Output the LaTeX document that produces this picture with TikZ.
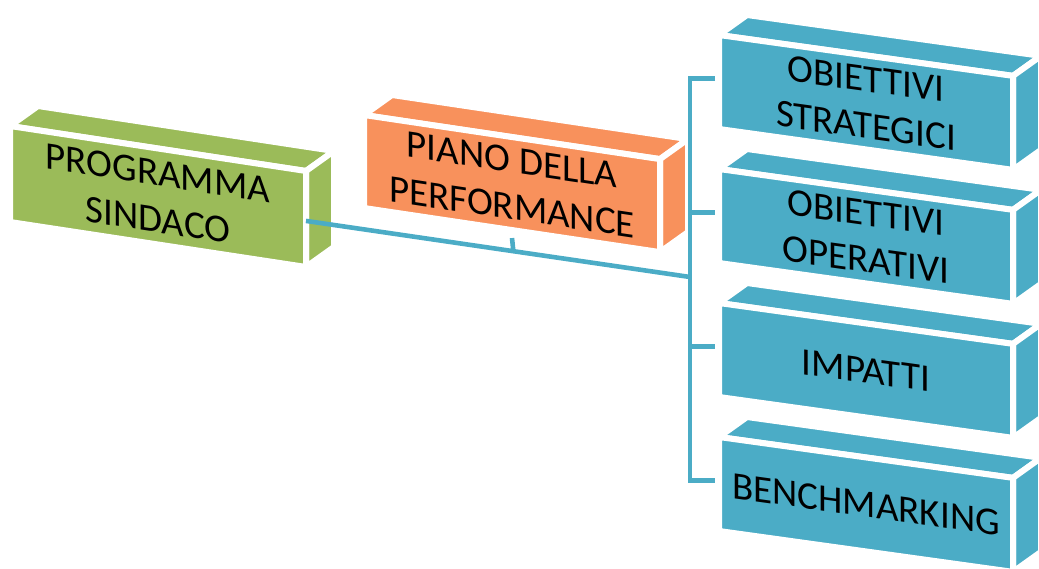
\documentclass[tikz,border=0pt]{standalone}
\usepackage{fontspec}
\setmainfont{Carlito}
\usetikzlibrary{calc}
\definecolor{pgreen}{RGB}{155,187,89}
\definecolor{porange}{RGB}{248,145,92}
\definecolor{pblue}{RGB}{75,172,198}
\tikzset{
  face/.style={draw=white, line width=3pt, line join=round},
  link/.style={draw=pblue, line width=2.3pt},
  slabtext/.style={align=center, font=\fontsize{19.5}{23.5}\selectfont, transform shape}
}
% box: name, x, y, width, height, slope, colour, text
\newcommand{\slab}[8]{%
  \coordinate (#1-a) at (#2,#3);
  \coordinate (#1-b) at ($(#1-a)+(#4,#4*#6)$);
  \coordinate (#1-c) at ($(#1-b)+(0,#5)$);
  \coordinate (#1-d) at ($(#1-a)+(0,#5)$);
  \coordinate (#1-m) at ($(#1-a)!0.5!(#1-c)$);
  \coordinate (#1-in) at ($(#1-a)!0.46!(#1-d)+(-4,0)$);
  \filldraw[face, fill=#7] (#1-a) -- (#1-b) -- ($(#1-b)+(28,-20)$) -- ($(#1-a)+(28,-20)$) -- cycle;
  \filldraw[face, fill=#7] (#1-b) -- (#1-c) -- ($(#1-c)+(28,-20)$) -- ($(#1-b)+(28,-20)$) -- cycle;
  \filldraw[face, fill=#7] (#1-a) -- (#1-b) -- (#1-c) -- (#1-d) -- cycle;
  \node[slabtext, yslant=-#6] (#1) at (#1-m) {#8};
}

\begin{document}
\begin{tikzpicture}[x=0.5pt, y=-0.5pt]
	\clip (0,0) rectangle (1039,568);
	\slab{pg}{10}{126}{296}{96}{0.152}{pgreen}{PROGRAMMA\\SINDACO}
	\slab{pd}{364}{115}{296}{93}{0.149}{porange}{PIANO DELLA\\PERFORMANCE}
	\slab{os}{719}{35}{294}{94}{0.139}{pblue}{OBIETTIVI\\STRATEGICI}
	\slab{oo}{719}{169}{294}{94}{0.139}{pblue}{OBIETTIVI\\OPERATIVI}
	\slab{im}{719}{303}{294}{94}{0.139}{pblue}{IMPATTI}
	\slab{bm}{719}{437}{294}{94}{0.139}{pblue}{BENCHMARKING}
	% connectors
	\coordinate (jn) at (690,277);
	\coordinate (pg-out) at ($(pg-b)!0.52!(pg-c)$);
	\draw[link] (pg-out) -- (jn);
	\draw[link] ($(pd-d)!0.5!(pd-c)+(0,8)$) -- ($(pg-out)!0.54!(jn)$);
	\draw[link] (os-in) -- (os-in -| jn) -- (bm-in -| jn) -- (bm-in);
	\draw[link] (oo-in -| jn) -- (oo-in); \draw[link] (im-in -| jn) -- (im-in);
\end{tikzpicture}
\end{document}
